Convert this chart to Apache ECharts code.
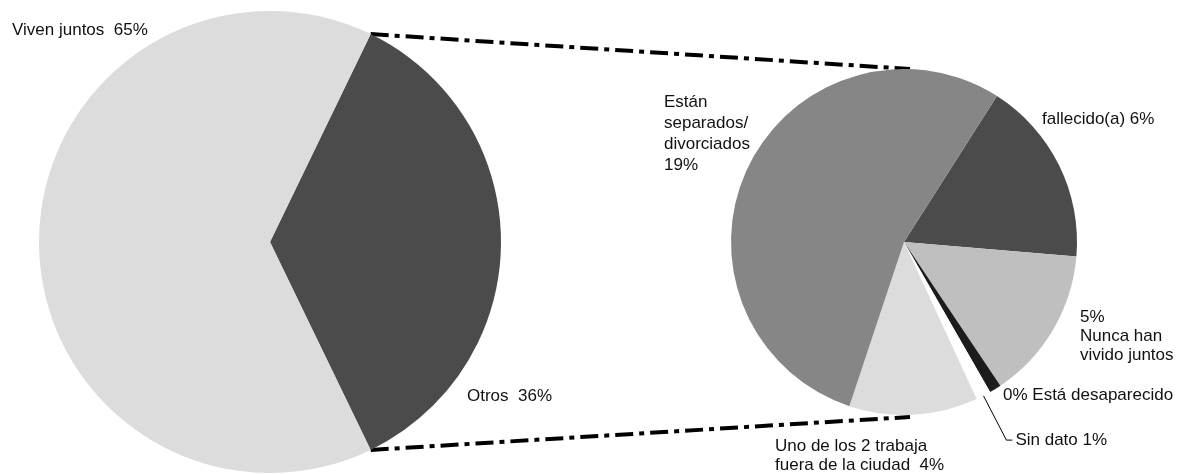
<!DOCTYPE html>
<html>
<head>
<meta charset="utf-8">
<script src="https://cdn.jsdelivr.net/npm/echarts@6/dist/echarts.min.js"></script>
<style>
  html, body { margin: 0; padding: 0; background: #ffffff; }
  #chart { width: 1187px; height: 474px; }
</style>
</head>
<body>
<div id="chart"></div>
<script>
// Main pie: couples living together vs. the rest
const mainNames = ['Otros', 'Viven juntos'];
const mainValues = [36, 65];
const mainColors = ['#4b4b4b', '#dcdcdc'];

// Breakdown of "Otros" (percent of all cases), clockwise from the top right
const subNames = [
  'fallecido(a)',
  'Nunca han\nvivido juntos',
  'Está desaparecido',
  'Sin dato',
  'Uno de los 2 trabaja\nfuera de la ciudad',
  'Están\nseparados/\ndivorciados'
];
const subValues = [6.2, 5.1, 0.4, 0.5, 4.3, 19.3];
const subColors = ['#4b4b4b', '#bfbfbf', '#1c1c1c', '#ffffff', '#dcdcdc', '#868686'];

// How each breakdown label combines name and percentage
const subLabelPatterns = ['name pct', 'pct\nname', 'pct name', 'name pct', 'name  pct', 'name\npct'];

// Geometry of the two pies
const mainCenter = [270, 242];
const mainRadius = 231;
const subCenter = [904, 242];
const subRadius = 173;

const sum = a => a.reduce((s, v) => s + v, 0);
const pct = v => Math.round(v) + '%';

// The "Otros" wedge is centred on 3 o'clock
const otrosSweep = mainValues[0] / sum(mainValues) * 360;
const mainStart = otrosSweep / 2;

const font = 'Liberation Sans, Arial, sans-serif';
const fontSize = 17;

const mainLabelSpots = [
  { x: 467, y: 396, align: 'left', verticalAlign: 'middle' },
  { x: 12, y: 30, align: 'left', verticalAlign: 'middle' }
];
const subLabelSpots = [
  { x: 1042, y: 119, align: 'left', verticalAlign: 'middle' },
  { x: 1080, y: 308, align: 'left', verticalAlign: 'top' },
  { x: 1003, y: 395, align: 'left', verticalAlign: 'middle' },
  null,
  { x: 775, y: 437, align: 'left', verticalAlign: 'top' },
  { x: 664, y: 92, align: 'left', verticalAlign: 'top' }
];
const subLineHeights = [20, 19, 20, 20, 19, 21];

const mainData = mainNames.map((n, i) => ({
  name: n,
  value: mainValues[i],
  itemStyle: { color: mainColors[i] }
}));

const subData = subNames.map((n, i) => ({
  name: n,
  value: subValues[i],
  itemStyle: { color: subColors[i] },
  label: { lineHeight: subLineHeights[i] },
  labelLine: i === 3
    ? { show: true, length: 50, length2: 6, lineStyle: { color: '#000', width: 1 } }
    : { show: false }
}));

// Dash-dot connectors from the edges of the "Otros" wedge to the breakdown pie
function polar(c, r, deg) {
  const a = deg * Math.PI / 180;
  return [c[0] + r * Math.cos(a), c[1] - r * Math.sin(a)];
}
const topFrom = polar(mainCenter, mainRadius, mainStart);
const botFrom = polar(mainCenter, mainRadius, -mainStart);
const topTo = [subCenter[0] + 6, subCenter[1] - subRadius];
const botTo = [subCenter[0] + 6, subCenter[1] + subRadius + 2];
const connectorStyle = { stroke: '#000', lineWidth: 4, lineDash: [18, 6, 5, 6] };

const chart = echarts.init(document.getElementById('chart'), null, { renderer: 'canvas' });
chart.setOption({
  backgroundColor: '#ffffff',
  animation: false,
  textStyle: { fontFamily: font },
  graphic: [
    { type: 'line', shape: { x1: topFrom[0], y1: topFrom[1], x2: topTo[0], y2: topTo[1] }, style: connectorStyle, z: 1 },
    { type: 'line', shape: { x1: botFrom[0], y1: botFrom[1], x2: botTo[0], y2: botTo[1] }, style: connectorStyle, z: 1 }
  ],
  series: [
    {
      type: 'pie',
      center: mainCenter,
      radius: [0, mainRadius],
      startAngle: mainStart,
      clockwise: true,
      avoidLabelOverlap: false,
      silent: true,
      z: 2,
      itemStyle: { borderWidth: 0 },
      label: {
        show: true,
        position: 'outside',
        color: '#111',
        fontFamily: font,
        fontSize: fontSize,
        formatter: p => p.name + '  ' + pct(p.value)
      },
      labelLine: { show: false },
      labelLayout: p => mainLabelSpots[p.dataIndex],
      data: mainData
    },
    {
      type: 'pie',
      center: subCenter,
      radius: [0, subRadius],
      startAngle: 57.5,
      clockwise: true,
      avoidLabelOverlap: false,
      silent: true,
      z: 2,
      itemStyle: { borderWidth: 0 },
      label: {
        show: true,
        position: 'outside',
        color: '#111',
        fontFamily: font,
        fontSize: fontSize,
        distanceToLabelLine: 3,
        formatter: p => subLabelPatterns[p.dataIndex]
          .replace('name', p.name)
          .replace('pct', pct(p.value))
      },
      labelLayout: p => subLabelSpots[p.dataIndex] || {},
      data: subData
    }
  ]
});
</script>
</body>
</html>
